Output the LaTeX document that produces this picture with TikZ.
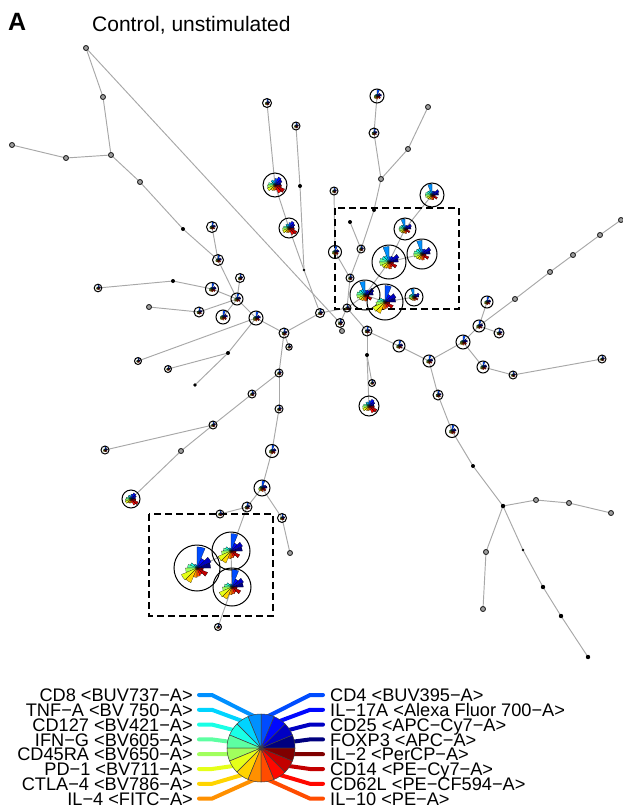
\documentclass[tikz,border=0pt]{standalone}
\usepackage{fontspec}
\setmainfont{Liberation Sans}
\definecolor{c0}{HTML}{00007F}
\definecolor{c1}{HTML}{0000C3}
\definecolor{c2}{HTML}{0008FF}
\definecolor{c3}{HTML}{004CFF}
\definecolor{c4}{HTML}{0090FF}
\definecolor{c5}{HTML}{00D4FF}
\definecolor{c6}{HTML}{19FFE6}
\definecolor{c7}{HTML}{5DFFA2}
\definecolor{c8}{HTML}{A1FF5D}
\definecolor{c9}{HTML}{E5FF19}
\definecolor{c10}{HTML}{FFD400}
\definecolor{c11}{HTML}{FF9000}
\definecolor{c12}{HTML}{FF4C00}
\definecolor{c13}{HTML}{FF0800}
\definecolor{c14}{HTML}{C30000}
\definecolor{c15}{HTML}{7F0000}
\definecolor{edgegray}{HTML}{A8A8A8}
\def\PL{0.65,0.72,0.5,1.0,0.15,0.2,0.35,0.45,0.55,0.8,0.75,0.45,0.4,0.35,0.55,0.3}
\def\PU{0.6,0.7,0.4,0.35,1.0,0.45,0.5,0.6,0.6,0.5,0.45,0.4,0.45,0.35,0.55,0.3}
\def\PS{0.7,0.6,0.4,1.0,0.3,0.3,0.3,0.4,0.45,0.5,0.45,0.4,0.5,0.35,0.6,0.45}
\def\PM{0.55,0.7,0.8,0.6,0.4,0.5,0.35,0.6,0.7,0.75,0.55,0.5,0.45,0.8,0.95,0.6}
\newcommand\N[3]{\coordinate (#1) at (#2,-#3);}
\newcommand\StarG[3]{%
  \begin{scope}[shift={(#1)}]
  \foreach \v [count=\i from 0] in #3 {
    \pgfmathsetmacro\sa{\i*22.5}
    \pgfmathsetmacro\rr{\v*#2}
    \filldraw[fill=c\i, draw=black, line width=0.12pt] (0,0) -- (\sa:\rr) arc[start angle=\sa, delta angle=22.5, radius=\rr] -- cycle;
  }
  \end{scope}}
\newcommand\Rg[3]{\StarG{#1}{#2*0.92}{#3}\draw[ringline] (#1) circle[radius=#2];}
\newcommand\Sm[1]{\draw[smallnode] (#1) circle[radius=2.5];}
\newcommand\Dt[2]{\fill[black] (#1) circle[radius=#2];}
\newcommand\lgfont{\fontsize{18.2}{18.2}\selectfont}
\begin{document}
\begin{tikzpicture}[x=1pt,y=1pt,
  edge/.style={draw=edgegray, line width=0.95pt},
  ringline/.style={draw=black, line width=1pt},
  smallnode/.style={draw=black!85, line width=0.9pt, fill=gray!75},
  boxline/.style={draw=black, line width=2.4pt, dash pattern=on 7pt off 4pt},
  legline/.style={line width=4pt, line cap=round},
  lab/.style={inner sep=0pt, font=\lgfont}]
\useasboundingbox (0,0) rectangle (623,-809);
% title
\node[anchor=base west, inner sep=0pt, font=\fontsize{25}{25}\selectfont\bfseries] (ttlA) at (8,-30) {A};
\node[anchor=base west, inner sep=0pt, font=\fontsize{21}{21}\selectfont] (ttl) at (92,-31) {Control, unstimulated};
% coordinates
\N{a1}{86}{48}\N{a2}{103}{97}\N{a3}{111}{155}\N{a4}{12}{145}\N{a5}{66}{158}
\N{a6}{140}{182}\N{a7}{183}{229}\N{a8}{218}{260}\N{a9}{212}{227}\N{a10}{237}{299}
\N{a11}{240}{278}\N{a12}{212}{289}\N{a13}{173}{281}\N{a14}{98}{288}\N{a15}{199}{312}
\N{a16}{149}{307}\N{a17}{223}{317}\N{a18}{256}{318}\N{a19}{284}{333}\N{a20}{289}{347}
\N{a21}{138}{361}\N{a22}{168}{369}\N{a23}{228}{353}\N{a24}{195}{385}\N{a25}{279}{373}
\N{a26}{252}{394}\N{a27}{279}{409}\N{a28}{213}{425}\N{a29}{105}{450}\N{a30}{181}{451}
\N{a31}{131}{499}\N{a32}{272}{451}\N{a33}{262}{488}\N{a34}{247}{507}\N{a35}{220}{514}
\N{a36}{282}{518}\N{a37}{290}{553}\N{a38}{197}{568}\N{a39}{231}{551}\N{a40}{232}{587}
\N{a41}{218}{627}
\N{b1}{267}{103}\N{b2}{275}{185}\N{b3}{296}{126}\N{b4}{300}{186}\N{b5}{289}{228}
\N{b6}{304}{270}\N{b7}{320}{313}\N{b8}{347}{308}\N{b9}{340}{323}\N{b10}{342}{331}
\N{b11}{377}{96}\N{b12}{374}{133}\N{b13}{381}{179}\N{b14}{408}{149}\N{b15}{428}{107}
\N{b16}{334}{191}\N{b17}{374}{210}\N{b18}{350}{222}\N{b19}{361}{249}\N{b20}{335}{252}
\N{b21}{350}{278}\N{b22}{432}{195}\N{b23}{405}{229}\N{b24}{422}{254}\N{b25}{389}{262}
\N{b26}{365}{295}\N{b27}{385}{302}\N{b28}{414}{297}\N{b29}{367}{331}\N{b30}{367}{355}
\N{b31}{372}{383}\N{b32}{369}{406}\N{b33}{399}{346}\N{b34}{429}{361}\N{b35}{463}{342}
\N{b36}{479}{326}\N{b37}{487}{302}\N{b38}{499}{333}\N{b39}{515}{299}\N{b40}{550}{272}
\N{b41}{573}{255}\N{b42}{600}{235}\N{b43}{621}{220}\N{b44}{483}{367}\N{b45}{513}{375}
\N{b46}{602}{359}\N{b47}{438}{395}\N{b48}{452}{431}\N{b49}{473}{466}\N{b50}{503}{506}
\N{b51}{536}{500}\N{b52}{569}{503}\N{b53}{611}{513}\N{b54}{486}{552}\N{b55}{483}{609}
\N{b56}{523}{550}\N{b57}{543}{587}\N{b58}{561}{616}\N{b59}{588}{657}
% edges
\foreach \p/\q in {a1/a2,a2/a3,a4/a5,a5/a3,a3/a6,a6/a7,a7/a8,a9/a8,a8/a10,a11/a10,
  a14/a13,a13/a12,a12/a10,a16/a15,a15/a10,a17/a10,a10/a18,a18/a19,a21/a18,a18/a23,
  a22/a23,a23/a24,a19/a20,a19/a25,a25/a26,a25/a27,a26/a28,a28/a29,a28/a30,a30/a31,
  a27/a32,a32/a33,a33/a34,a34/a35,a33/a36,a36/a37,a34/a39,a39/a40,a40/a41,a38/a39,
  a19/b7,b1/b2,b2/b5,b3/b4,b4/b6,b5/b6,b6/b7,b7/b8,a1/b9,b9/b8,b10/b9,b11/b12,
  b12/b13,b15/b14,b14/b13,b13/b17,b17/b19,b18/b19,b19/b21,b16/b20,b20/b21,b21/b8,
  b8/b26,b26/b25,b25/b23,b23/b22,b25/b24,b26/b27,b27/b28,b8/b29,b29/b30,b30/b31,
  b30/b32,b29/b33,b33/b34,b34/b35,b35/b36,b36/b37,b36/b38,b36/b39,b39/b40,b40/b41,
  b41/b42,b42/b43,b35/b44,b44/b45,b45/b46,b34/b47,b47/b48,b48/b49,b49/b50,b50/b51,
  b51/b52,b52/b53,b50/b54,b54/b55,b50/b56,b56/b57,b57/b58,b58/b59}
  {\draw[edge] (\p) -- (\q);}
% dashed boxes
\draw[boxline] (335,-208) rectangle (459,-309);
\draw[boxline] (149,-514) rectangle (273,-616);
% nodes
\Sm{a1}\Sm{a2}\Sm{a3}\Sm{a4}\Sm{a5}\Sm{a6}\Dt{a7}{2}
\Rg{a8}{5.5}{\PS}\Rg{a9}{5.5}{\PS}\Rg{a10}{6}{\PS}\Rg{a11}{4.5}{\PS}\Rg{a12}{6.5}{\PS}
\Dt{a13}{2}\Rg{a14}{3.8}{\PS}\Rg{a15}{5}{\PS}\Sm{a16}\Rg{a17}{7}{\PS}\Rg{a18}{7}{\PS}
\Rg{a19}{5}{\PS}\Rg{a20}{3.2}{\PS}\Rg{a21}{3.5}{\PS}\Rg{a22}{3.5}{\PS}\Dt{a23}{2}
\Dt{a24}{1.8}\Rg{a25}{4}{\PS}\Rg{a26}{4}{\PS}\Rg{a27}{4}{\PS}\Rg{a28}{4}{\PS}
\Rg{a29}{4}{\PS}\Sm{a30}\Rg{a31}{9}{\PM}\Rg{a32}{6.5}{\PS}\Rg{a33}{8}{\PS}
\Rg{a34}{5}{\PS}\Rg{a35}{4}{\PS}\Rg{a36}{4.5}{\PS}\Sm{a37}
\Rg{a38}{23}{\PL}\Rg{a39}{19}{\PL}\Rg{a40}{19}{\PL}\Rg{a41}{3.5}{\PS}
\Rg{b1}{4.5}{\PS}\Rg{b2}{12}{\PM}\Rg{b3}{4}{\PS}\Dt{b4}{2}\Rg{b5}{10}{\PM}\Dt{b6}{1.4}
\Rg{b7}{4.5}{\PS}\Rg{b8}{4}{\PS}\Rg{b9}{4.5}{\PS}\Sm{b10}\Rg{b11}{7}{\PS}\Rg{b12}{5}{\PS}
\Sm{b13}\Sm{b14}\Sm{b15}\Rg{b16}{4}{\PS}\Dt{b17}{2}\Dt{b18}{2}\Rg{b19}{4}{\PS}
\Rg{b20}{6.5}{\PS}\Rg{b21}{4}{\PS}
\Rg{b22}{12}{\PU}\Rg{b23}{11}{\PU}\Rg{b24}{15}{\PU}\Rg{b25}{17}{\PU}\Rg{b26}{15}{\PU}
\Rg{b27}{18}{\PL}\Rg{b28}{9}{\PU}
\Rg{b29}{5}{\PS}\Dt{b30}{2}\Rg{b31}{3.5}{\PS}\Rg{b32}{10}{\PM}\Rg{b33}{6}{\PS}
\Rg{b34}{6}{\PS}\Rg{b35}{7}{\PS}\Rg{b36}{6}{\PS}\Rg{b37}{6}{\PS}\Rg{b38}{5}{\PS}
\Sm{b39}\Sm{b40}\Sm{b41}\Sm{b42}\Sm{b43}\Rg{b44}{6}{\PS}\Rg{b45}{4}{\PS}\Rg{b46}{4}{\PS}
\Rg{b47}{5}{\PS}\Rg{b48}{6.5}{\PS}\Dt{b49}{2}\Dt{b50}{2.2}\Sm{b51}\Sm{b52}\Sm{b53}
\Sm{b54}\Sm{b55}\Dt{b56}{1.4}\Dt{b57}{2.2}\Dt{b58}{2.2}\Dt{b59}{2.2}
% legend
\coordinate (lc) at (261,-748);
\foreach \i/\k in {4/0,5/1,6/2,7/3,8/4,9/5,10/6,11/7} {
  \pgfmathsetmacro\yy{-(695+14.8*\k)}
  \pgfmathsetmacro\mm{\i*22.5+11.25}
  \draw[legline, draw=c\i] (199,\yy) -- (212,\yy) -- ([shift={(\mm:32)}]lc);
}
\foreach \i/\k in {3/0,2/1,1/2,0/3,15/4,14/5,13/6,12/7} {
  \pgfmathsetmacro\yy{-(695+14.8*\k)}
  \pgfmathsetmacro\mm{\i*22.5+11.25}
  \draw[legline, draw=c\i] (323,\yy) -- (310,\yy) -- ([shift={(\mm:32)}]lc);
}
\foreach \i in {0,...,15} {
  \pgfmathsetmacro\sa{\i*22.5}
  \filldraw[fill=c\i, draw=black!75, line width=0.5pt] (lc) -- ([shift={(\sa:34)}]lc) arc[start angle=\sa, delta angle=22.5, radius=34] -- cycle;
}
\node[lab, anchor=base east] (l0) at (193,-701.6) {CD8 <BUV737−A>};
\node[lab, anchor=base east] (l1) at (193,-716.4) {TNF−A <BV 750−A>};
\node[lab, anchor=base east] (l2) at (193,-731.2) {CD127 <BV421−A>};
\node[lab, anchor=base east] (l3) at (193,-746.0) {IFN−G <BV605−A>};
\node[lab, anchor=base east] (l4) at (193,-760.8) {CD45RA <BV650−A>};
\node[lab, anchor=base east] (l5) at (193,-775.6) {PD−1 <BV711−A>};
\node[lab, anchor=base east] (l6) at (193,-790.4) {CTLA−4 <BV786−A>};
\node[lab, anchor=base east] (l7) at (193,-805.2) {IL−4 <FITC−A>};
\node[lab, anchor=base west] (r0) at (330,-701.6) {CD4 <BUV395−A>};
\node[lab, anchor=base west] (r1) at (330,-716.4) {IL−17A <Alexa Fluor 700−A>};
\node[lab, anchor=base west] (r2) at (330,-731.2) {CD25 <APC−Cy7−A>};
\node[lab, anchor=base west] (r3) at (330,-746.0) {FOXP3 <APC−A>};
\node[lab, anchor=base west] (r4) at (330,-760.8) {IL−2 <PerCP−A>};
\node[lab, anchor=base west] (r5) at (330,-775.6) {CD14 <PE−Cy7−A>};
\node[lab, anchor=base west] (r6) at (330,-790.4) {CD62L <PE−CF594−A>};
\node[lab, anchor=base west] (r7) at (330,-805.2) {IL−10 <PE−A>};
\end{tikzpicture}
\end{document}
